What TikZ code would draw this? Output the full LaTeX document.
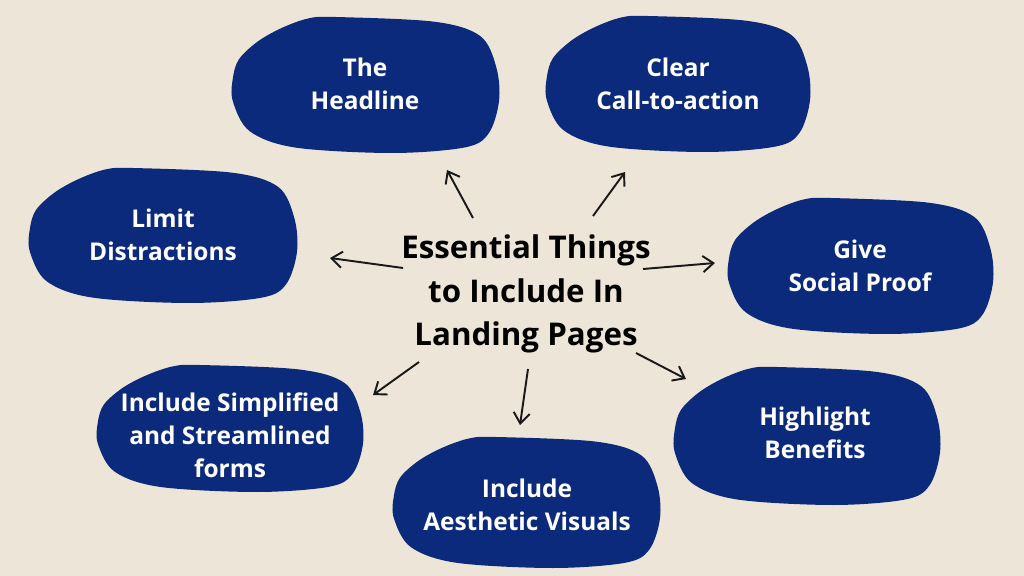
\documentclass[tikz,border=0pt]{standalone}
\usepackage{fontspec}
\setmainfont{Open Sans}
\usetikzlibrary{arrows.meta,positioning,calc}
\usepackage{xcolor}

\definecolor{paper}{HTML}{EDE6D8}
\definecolor{navy}{HTML}{0C2A7B}

\tikzset{
  blobtext/.style={white, font=\bfseries\fontsize{6.95}{9.4}\selectfont, align=center, inner sep=0pt},
  titletext/.style={black, font=\bfseries\fontsize{8.9}{12.3}\selectfont, align=center, inner sep=0pt},
  pointer/.style={-{Straight Barb[length=3pt,width=4.6pt]}, line width=0.55pt, black!90},
}

%% one lopsided blob: x0, y0, width, height (in pixels, y down)
\newcommand{\blob}[4]{%
  \fill[navy, shift={(#1,#2)}, xscale=#3, yscale=#4]
    plot[smooth cycle, tension=0.55] coordinates {
      (0.39,0.00) (0.76,0.035) (0.93,0.14) (0.99,0.37) (1.00,0.62)
      (0.96,0.86) (0.87,0.96) (0.60,1.00) (0.24,0.96) (0.07,0.84)
      (0.007,0.62) (0.007,0.45) (0.03,0.31) (0.10,0.18) (0.19,0.08)
      (0.29,0.01)};
}

\begin{document}
\begin{tikzpicture}[x=0.01cm, y=-0.01cm]
  %% ── Background ──────────────────────────────────────────────
  \fill[paper] (0,0) rectangle (1024,576);
  \useasboundingbox (0,0) rectangle (1024,576);

  %% ── Blobs ───────────────────────────────────────────────────
  \foreach \bx/\by/\bw/\bh in {231/17/268/136, 545/16/265/136,
      28/168/269/135, 727/198/266/136, 96/365/267/127,
      392/437/268/131, 673/367/267/138}{
    \blob{\bx}{\by}{\bw}{\bh}
  }

  %% ── Labels ──────────────────────────────────────────────────
  \node[titletext] (title)    at (526,294) {Essential Things\\to Include In\\Landing Pages};
  \node[blobtext]  (headline) at (365,84)  {The\\Headline};
  \node[blobtext]  (cta)      at (678,84)  {Clear\\Call-to-action};
  \node[blobtext]  (distract) at (163,235) {Limit\\Distractions};
  \node[blobtext]  (proof)    at (860,266) {Give\\Social Proof};
  \node[blobtext]  (forms)    at (230,435) {Include Simplified\\and Streamlined\\forms};
  \node[blobtext]  (visuals)  at (527,505) {Include\\Aesthetic Visuals};
  \node[blobtext]  (benefits) at (815,433) {Highlight\\Benefits};

  %% ── Arrow ends ──────────────────────────────────────────────
  \coordinate (headline-tail) at (473,218); \coordinate (headline-tip) at (447,170);
  \coordinate (cta-tail)      at (593,216); \coordinate (cta-tip)      at (625,172);
  \coordinate (distract-tail) at (403,268); \coordinate (distract-tip) at (330,258);
  \coordinate (proof-tail)    at (643,269); \coordinate (proof-tip)    at (715,263);
  \coordinate (forms-tail)    at (419,362); \coordinate (forms-tip)    at (373,395);
  \coordinate (visuals-tail)  at (528,369); \coordinate (visuals-tip)  at (520,425);
  \coordinate (benefits-tail) at (636,353); \coordinate (benefits-tip) at (686,379);

  %% ── Arrows ──────────────────────────────────────────────────
  \foreach \nm in {headline,cta,distract,proof,forms,visuals,benefits}{
    \draw[pointer] (\nm-tail) -- (\nm-tip);
  }
\end{tikzpicture}
\end{document}
